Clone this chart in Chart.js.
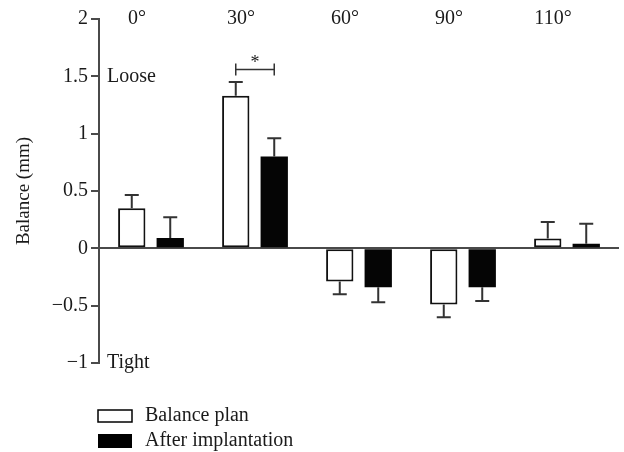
<!DOCTYPE html>
<html>
<head>
<meta charset="utf-8">
<script src="https://cdn.jsdelivr.net/npm/chart.js@4"></script>
<style>
  html, body { margin: 0; padding: 0; background: #fff; }
  #wrap { width: 624px; height: 452px; }
</style>
</head>
<body>
<div id="wrap"><canvas id="chart" width="624" height="452"></canvas></div>
<script>
const angles = ['0°', '30°', '60°', '90°', '110°'];
const balancePlan = [0.35, 1.33, -0.29, -0.49, 0.085];
const balancePlanErr = [0.115, 0.12, 0.11, 0.11, 0.145];
const afterImplant = [0.09, 0.80, -0.34, -0.34, 0.04];
const afterImplantErr = [0.18, 0.16, 0.13, 0.12, 0.175];
const yTicks = [-1, -0.5, 0, 0.5, 1, 1.5, 2];

const serif = '"Liberation Serif", "DejaVu Serif", serif';
const ink = '#1a1a1a';
const axisGrey = '#4a4a4a';

// one-sided error bars, drawn outward from the bar end
const errorBars = {
    id: 'errorBars',
    afterDatasetsDraw(chart) {
        const ctx = chart.ctx;
        const y = chart.scales.y;
        const errs = [balancePlanErr, afterImplantErr];
        ctx.save();
        ctx.strokeStyle = '#333';
        ctx.lineWidth = 2;
        chart.data.datasets.forEach((ds, di) => {
            chart.getDatasetMeta(di).data.forEach((bar, i) => {
                const v = ds.data[i];
                const sign = v >= 0 ? 1 : -1;
                const yEnd = y.getPixelForValue(v + sign * errs[di][i]);
                ctx.beginPath();
                ctx.moveTo(bar.x, bar.y);
                ctx.lineTo(bar.x, yEnd);
                ctx.moveTo(bar.x - 7, yEnd);
                ctx.lineTo(bar.x + 7, yEnd);
                ctx.stroke();
            });
        });
        ctx.restore();
    }
};

// angle labels, Loose/Tight notes, significance bracket and legend
const annotations = {
    id: 'annotations',
    afterDraw(chart) {
        const ctx = chart.ctx;
        const x = chart.scales.x;
        const y = chart.scales.y;
        ctx.save();
        ctx.fillStyle = ink;
        ctx.font = '20px ' + serif;
        ctx.textBaseline = 'middle';
        ctx.textAlign = 'center';
        angles.forEach((a, i) => {
            ctx.fillText(a, x.getPixelForValue(i) - 14, y.getPixelForValue(2));
        });
        ctx.textAlign = 'left';
        ctx.fillText('Loose', 107, y.getPixelForValue(1.5));
        ctx.fillText('Tight', 107, y.getPixelForValue(-1));

        // bracket over 30°
        const b0 = chart.getDatasetMeta(0).data[1];
        const b1 = chart.getDatasetMeta(1).data[1];
        const by = y.getPixelForValue(1.56);
        ctx.strokeStyle = '#333';
        ctx.lineWidth = 1.5;
        ctx.beginPath();
        ctx.moveTo(b0.x, by - 6); ctx.lineTo(b0.x, by + 6);
        ctx.moveTo(b0.x, by); ctx.lineTo(b1.x, by);
        ctx.moveTo(b1.x, by - 6); ctx.lineTo(b1.x, by + 6);
        ctx.stroke();
        ctx.textAlign = 'center';
        ctx.font = '18px ' + serif;
        ctx.fillText('*', (b0.x + b1.x) / 2, by - 6);

        // legend
        ctx.font = '20px ' + serif;
        ctx.textAlign = 'left';
        ctx.lineWidth = 1.5;
        ctx.strokeStyle = '#000';
        ctx.fillStyle = '#fff';
        ctx.fillRect(98, 410, 34, 12);
        ctx.strokeRect(98, 410, 34, 12);
        ctx.fillStyle = '#000';
        ctx.fillRect(98, 434, 34, 14);
        ctx.fillStyle = ink;
        ctx.fillText('Balance plan', 145, 416);
        ctx.fillText('After implantation', 145, 441);
        ctx.restore();
    }
};

new Chart(document.getElementById('chart'), {
    type: 'bar',
    data: {
        labels: angles,
        datasets: [{
            label: 'Balance plan',
            data: balancePlan,
            backgroundColor: '#fff',
            borderColor: '#111',
            borderWidth: 2,
            borderSkipped: false
        }, {
            label: 'After implantation',
            data: afterImplant,
            backgroundColor: '#050505',
            borderColor: '#050505',
            borderWidth: 0
        }]
    },
    options: {
        responsive: false,
        animation: false,
        categoryPercentage: 0.74,
        barPercentage: 0.71,
        layout: { padding: { top: 19, right: 5, bottom: 89, left: 0 } },
        plugins: {
            legend: { display: false },
            tooltip: { enabled: false }
        },
        scales: {
            x: {
                display: false,
                offset: true
            },
            y: {
                min: -1,
                max: 2,
                afterBuildTicks(scale) {
                    scale.ticks = yTicks.map(v => ({ value: v }));
                },
                afterFit(scale) { scale.width = 99; },
                border: { display: true, color: axisGrey, width: 2 },
                grid: {
                    drawOnChartArea: true,
                    color: c => (c.tick && c.tick.value === 0 ? axisGrey : 'rgba(0,0,0,0)'),
                    lineWidth: 2,
                    tickColor: axisGrey,
                    tickLength: 8
                },
                ticks: {
                    color: ink,
                    padding: 3,
                    font: { family: serif, size: 20 },
                    callback: v => String(v).replace('-', '\u2212')
                },
                title: {
                    display: true,
                    text: 'Balance (mm)',
                    color: ink,
                    font: { family: serif, size: 19 },
                    padding: { top: 13, bottom: 0 }
                }
            }
        }
    },
    plugins: [errorBars, annotations]
});
</script>
</body>
</html>
